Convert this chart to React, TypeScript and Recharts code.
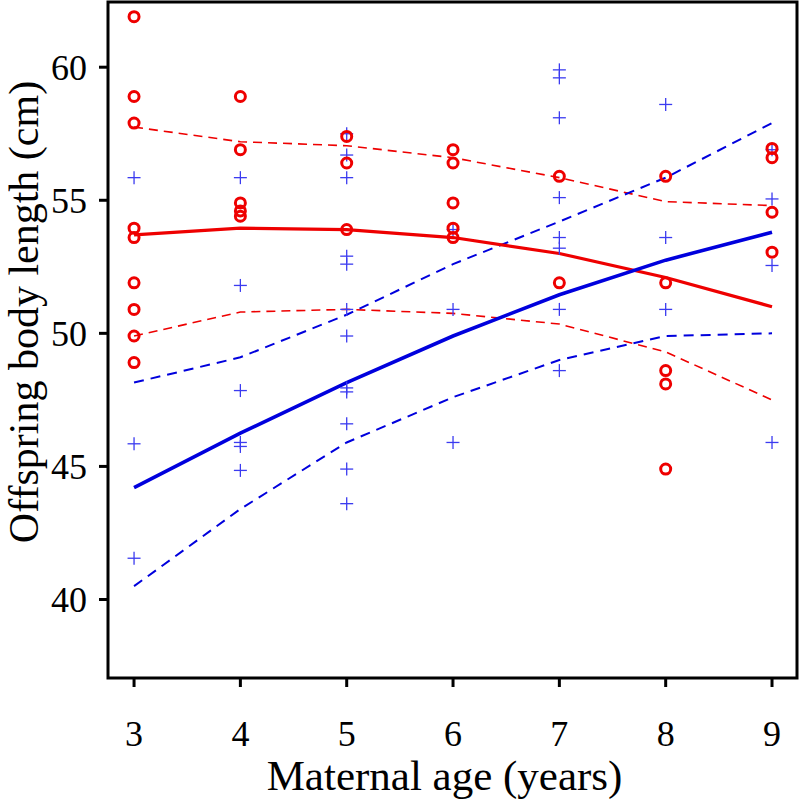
import {
  ComposedChart,
  Line,
  Scatter,
  XAxis,
  YAxis,
  ReferenceArea,
} from "recharts";

// maternal age (years) where the fitted curves are evaluated
const ages = [3, 4, 5, 6, 7, 8, 9];

// red: fitted curve and its confidence band
const redFit = [53.7, 53.95, 53.9, 53.6, 53.0, 52.1, 51.0];
const redUpper = [57.75, 57.2, 57.05, 56.6, 55.85, 54.95, 54.8];
const redLower = [49.9, 50.8, 50.9, 50.75, 50.35, 49.3, 47.5];

// blue: fitted curve and its confidence band
const blueFit = [44.2, 46.25, 48.15, 49.9, 51.45, 52.75, 53.8];
const blueUpper = [48.15, 49.1, 50.7, 52.6, 54.2, 55.85, 57.9];
const blueLower = [40.5, 43.4, 45.9, 47.6, 49.0, 49.9, 50.0];

// observed offspring lengths (cm), one list per maternal age 3..9
const redObs = [
  [61.9, 58.9, 57.9, 53.95, 53.6, 51.9, 50.9, 49.9, 48.9],
  [58.9, 56.9, 54.9, 54.6, 54.4],
  [57.4, 56.4, 53.9],
  [56.9, 56.4, 54.9, 53.95, 53.6],
  [55.9, 51.9],
  [55.9, 51.9, 48.6, 48.1, 44.9],
  [56.95, 56.6, 54.55, 53.05],
];
const blueObs = [
  [55.85, 45.85, 41.55],
  [55.85, 51.8, 47.85, 45.9, 45.75, 44.85],
  [57.5, 56.7, 55.85, 52.9, 52.6, 50.9, 49.9, 47.95, 47.8, 46.6, 44.9, 43.6],
  [53.9, 50.9, 45.9],
  [59.9, 59.6, 58.1, 55.1, 53.6, 53.2, 50.9, 48.6],
  [58.6, 53.6, 50.9],
  [56.9, 55.05, 52.55, 45.9],
];

const xTicks = [3, 4, 5, 6, 7, 8, 9];
const yTicks = [40, 45, 50, 55, 60];
const xDomain: [number, number] = [2.755, 9.235];
const yDomain: [number, number] = [37.05, 62.45];

const curves = ages.map((age, i) => ({
  age,
  redFit: redFit[i],
  redUpper: redUpper[i],
  redLower: redLower[i],
  blueFit: blueFit[i],
  blueUpper: blueUpper[i],
  blueLower: blueLower[i],
}));

const redPoints = redObs.flatMap((vals, i) => vals.map((len) => ({ age: ages[i], len })));
const bluePoints = blueObs.flatMap((vals, i) => vals.map((len) => ({ age: ages[i], len })));

const FONT = '"Liberation Serif", "Times New Roman", serif';
const RED = "#ee0000";
const BLUE = "#0000dd";

const RingShape = (props: any) => (
  <circle cx={props.cx} cy={props.cy} r={5} fill="none" stroke={RED} strokeWidth={3} />
);

const CrossShape = (props: any) => {
  const { cx, cy } = props;
  const s = 6.5;
  return (
    <g stroke="#3b3bf0" strokeWidth={1.3}>
      <line x1={cx - s} y1={cy} x2={cx + s} y2={cy} />
      <line x1={cx} y1={cy - s} x2={cx} y2={cy + s} />
    </g>
  );
};

export default function App() {
  return (
    <div style={{ position: "absolute", left: 0, top: 0, background: "#fff" }}>
      <ComposedChart
        width={800}
        height={802}
        margin={{ top: 2, right: 3, bottom: 0, left: 0 }}
        style={{ fontFamily: FONT }}
      >
        <XAxis
          dataKey="age"
          type="number"
          domain={xDomain}
          ticks={xTicks}
          allowDataOverflow
          axisLine={false}
          tickLine={{ stroke: "#000", strokeWidth: 3 }}
          tickSize={9}
          tickMargin={33}
          height={124}
          tick={{ fill: "#000", fontSize: 36, fontFamily: FONT }}
          label={{
            value: "Maternal age (years)",
            position: "insideBottom",
            offset: 12,
            fill: "#000",
            fontSize: 43,
            fontFamily: FONT,
            dx: -8,
          }}
        />
        <YAxis
          type="number"
          domain={yDomain}
          ticks={yTicks}
          allowDataOverflow
          axisLine={false}
          tickLine={{ stroke: "#000", strokeWidth: 3 }}
          tickSize={9}
          tickMargin={12}
          width={108}
          tick={{ fill: "#000", fontSize: 36, fontFamily: FONT }}
          label={{
            content: () => (
              <text
                x={24}
                y={312}
                transform="rotate(-90 24 312)"
                textAnchor="middle"
                dominantBaseline="central"
                fill="#000"
                fontSize={42}
                fontFamily={FONT}
              >
                Offspring body length (cm)
              </text>
            ),
          }}
        />
        <ReferenceArea
          x1={xDomain[0]}
          x2={xDomain[1]}
          y1={yDomain[0]}
          y2={yDomain[1]}
          fill="none"
          stroke="#000"
          strokeWidth={3}
          fillOpacity={0}
        />
        <Line data={curves} dataKey="redUpper" stroke={RED} strokeWidth={1.6} strokeDasharray="9 6" dot={false} isAnimationActive={false} />
        <Line data={curves} dataKey="redLower" stroke={RED} strokeWidth={1.6} strokeDasharray="9 6" dot={false} isAnimationActive={false} />
        <Line data={curves} dataKey="blueUpper" stroke={BLUE} strokeWidth={2} strokeDasharray="10 7" dot={false} isAnimationActive={false} />
        <Line data={curves} dataKey="blueLower" stroke={BLUE} strokeWidth={2} strokeDasharray="10 7" dot={false} isAnimationActive={false} />
        <Line data={curves} dataKey="redFit" stroke={RED} strokeWidth={3.2} dot={false} isAnimationActive={false} />
        <Line data={curves} dataKey="blueFit" stroke={BLUE} strokeWidth={3.6} dot={false} isAnimationActive={false} />
        <Scatter data={bluePoints} dataKey="len" shape={CrossShape} isAnimationActive={false} />
        <Scatter data={redPoints} dataKey="len" shape={RingShape} isAnimationActive={false} />
      </ComposedChart>
    </div>
  );
}
